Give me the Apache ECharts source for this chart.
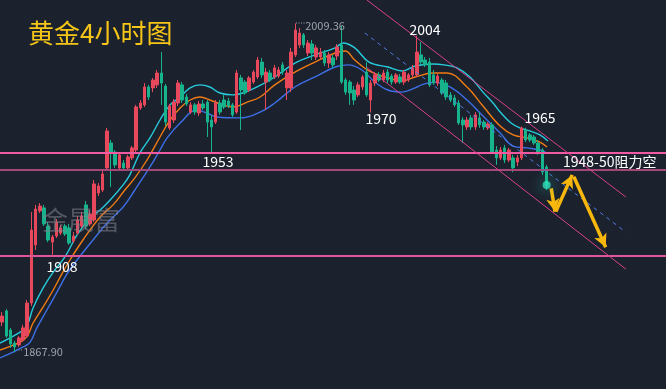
<!DOCTYPE html>
<html><head><meta charset="utf-8">
<script src="https://cdn.jsdelivr.net/npm/echarts@6/dist/echarts.min.js"></script>
<style>html,body{margin:0;padding:0;background:#1b212d;}#c{width:666px;height:389px;}</style>
</head><body><div id="c"></div>
<script>
// ---- data (prices) ----
const opens = [1880.9,1885.7,1877.5,1871.9,1871.1,1873.2,1874.9,1889.1,1914.1,1928.7,1930.0,1922.2,1915.3,1917.9,1919.2,1922.2,1921.4,1915.8,1919.2,1922.2,1931.3,1923.1,1924.8,1936.4,1937.7,1947.2,1957.9,1954.0,1947.2,1949.3,1947.2,1951.5,1954.9,1973.0,1974.3,1982.0,1981.6,1982.9,1988.0,1982.4,1964.4,1967.8,1975.1,1982.9,1977.7,1971.2,1974.3,1970.8,1974.7,1975.5,1967.8,1966.9,1975.1,1976.4,1976.0,1974.3,1971.2,1985.9,1984.1,1980.7,1984.1,1986.3,1992.7,1984.1,1988.0,1986.3,1986.7,1991.5,1981.6,1981.6,1995.8,2000.1,2004.4,1996.6,2000.5,1994.9,1994.9,1996.6,1992.3,1994.5,1995.3,2000.1,1985.0,1984.1,1980.7,1978.6,1982.0,1988.4,1976.4,1983.7,1987.2,1985.0,1988.4,1986.7,1984.1,1986.3,1984.1,1985.0,1987.2,1987.2,1995.8,1993.6,1992.7,1987.2,1983.7,1985.0,1983.7,1978.6,1977.3,1975.1,1967.8,1964.8,1968.7,1964.8,1968.7,1966.9,1964.4,1965.7,1954.9,1951.5,1955.8,1950.6,1951.5,1949.7,1951.5,1963.5,1961.4,1960.5,1957.9,1954.9,1947.6];
const closes = [1883.5,1874.9,1871.5,1870.2,1874.1,1878.4,1889.1,1920.5,1929.5,1930.8,1923.1,1916.2,1917.5,1923.9,1921.4,1918.8,1914.9,1917.9,1924.8,1926.5,1922.2,1927.4,1940.3,1939.4,1944.6,1963.1,1953.6,1948.5,1952.8,1947.2,1951.9,1955.8,1973.4,1975.1,1982.0,1977.7,1985.0,1988.0,1983.7,1966.9,1973.8,1975.5,1983.7,1976.4,1974.7,1974.3,1971.2,1974.7,1973.0,1966.9,1964.8,1975.1,1971.2,1973.4,1973.8,1970.0,1988.0,1980.7,1979.4,1985.9,1988.4,1993.6,1987.2,1988.4,1985.0,1990.2,1989.3,1988.4,1988.0,1997.0,2006.5,2005.2,2000.1,2000.9,1996.6,1998.8,1997.0,1992.3,1995.8,1991.5,1999.2,1984.1,1979.8,1979.4,1976.4,1982.9,1986.3,1978.6,1983.7,1987.2,1985.0,1988.0,1985.0,1984.1,1987.2,1984.1,1988.4,1987.2,1990.2,1997.0,1992.7,1991.5,1982.9,1983.7,1986.7,1979.4,1977.7,1976.4,1974.3,1966.5,1965.7,1967.8,1964.8,1970.0,1965.7,1964.8,1966.1,1954.0,1951.5,1954.9,1950.6,1954.9,1947.2,1951.5,1964.4,1959.2,1959.2,1957.9,1953.6,1945.4,1939.8];
const lows = [1879.2,1874.1,1869.8,1867.9,1870.2,1872.3,1874.1,1887.8,1911.9,1927.8,1922.2,1915.3,1909.8,1917.1,1918.4,1917.9,1914.1,1914.9,1918.4,1921.4,1920.9,1922.2,1923.9,1935.1,1936.8,1946.3,1939.0,1947.2,1946.3,1946.3,1946.3,1950.6,1954.0,1972.1,1973.4,1976.4,1979.8,1981.6,1974.3,1965.2,1963.5,1966.5,1973.8,1975.1,1973.8,1970.4,1970.0,1969.5,1972.1,1960.5,1953.5,1966.1,1970.0,1972.5,1973.0,1969.1,1970.4,1963.5,1978.6,1979.8,1983.3,1985.4,1985.9,1972.1,1984.1,1985.4,1985.9,1987.2,1976.4,1979.8,1994.9,1998.8,1998.8,1995.3,1993.6,1993.6,1993.6,1991.0,1990.2,1990.2,1993.6,1983.3,1978.6,1974.3,1974.3,1977.7,1980.7,1977.7,1971.0,1982.4,1984.1,1984.1,1983.7,1982.9,1983.3,1983.3,1982.9,1984.1,1985.9,1986.3,1991.5,1990.6,1982.0,1982.9,1982.4,1978.6,1976.4,1975.5,1973.4,1965.7,1957.9,1963.5,1963.5,1963.5,1964.4,1963.5,1963.5,1953.2,1948.5,1950.6,1949.3,1949.7,1945.4,1948.0,1950.6,1958.3,1958.3,1957.1,1952.8,1944.1,1937.7];
const highs = [1885.2,1886.5,1878.4,1872.8,1874.9,1879.7,1890.4,1928.2,1931.3,1932.1,1931.3,1923.9,1918.4,1925.2,1922.7,1923.1,1923.1,1919.6,1926.5,1928.2,1933.0,1929.1,1942.0,1940.7,1946.3,1964.4,1959.2,1954.9,1954.0,1950.6,1952.8,1956.6,1974.3,1976.4,1983.7,1982.9,1985.9,1989.3,1997.0,1983.3,1974.7,1976.8,1985.0,1984.1,1979.0,1975.5,1975.1,1976.0,1976.4,1976.4,1970.0,1976.4,1976.4,1978.6,1977.3,1975.1,1989.3,1987.2,1985.0,1986.7,1989.3,1994.9,1994.5,1990.2,1989.3,1991.5,1990.6,1992.7,1989.3,1998.8,2009.36,2007.4,2005.2,2002.2,2002.2,2000.1,1998.8,1997.9,1997.0,1995.8,2000.5,2008.2,1985.9,1985.0,1982.4,1984.1,1987.2,1992.7,1985.0,1988.4,1988.4,1989.3,1989.7,1987.6,1988.0,1987.6,1989.3,1988.0,1991.5,2004.0,2001.3,1994.9,1994.5,1989.3,1987.6,1985.9,1985.0,1979.8,1978.6,1976.4,1969.1,1969.1,1970.0,1971.2,1971.2,1967.8,1966.9,1966.9,1956.6,1956.2,1957.1,1955.8,1952.8,1952.8,1965.0,1964.5,1962.2,1961.4,1959.2,1955.8,1948.5];

// moving-average style lines, [candle index, price]
const maCyan = [[-0.5,1871.9],[4.3,1876.6],[5.9,1879.2],[7.4,1887.0],[9.8,1895.6],[12.2,1902.4],[15.0,1908.9],[17.9,1918.4],[21.0,1925.7],[23.4,1929.1],[25.8,1933.4],[28.9,1939.9],[30.5,1944.2],[32.9,1953.6],[35.3,1960.1],[37.7,1967.8],[40.1,1974.3],[42.5,1977.7],[44.9,1981.6],[47.2,1982.9],[49.6,1982.0],[52.0,1979.4],[55.1,1978.6],[57.5,1979.4],[60.9,1982.0],[65.1,1986.3],[69.9,1992.3],[74.7,1995.8],[79.5,1998.8],[81.4,2000.9],[84.2,1998.8],[87.6,1992.7],[92.1,1990.6],[95.5,1988.9],[98.6,1991.0],[102.9,1991.9],[105.5,1991.5],[108.6,1990.2],[111.7,1986.3],[114.8,1979.8],[117.4,1974.7],[118.9,1971.2],[121.5,1966.5],[123.6,1964.4],[126.0,1963.1],[128.4,1961.4],[130.3,1958.8]];
const maOrange = [[-0.5,1868.9],[4.3,1872.3],[5.9,1874.5],[7.4,1880.5],[9.8,1887.4],[12.2,1894.7],[14.5,1902.4],[16.2,1907.6],[19.3,1916.2],[23.4,1926.1],[26.5,1931.3],[29.3,1937.7],[31.7,1942.9],[34.6,1950.6],[37.7,1960.5],[40.1,1967.8],[42.5,1973.0],[44.9,1976.4],[47.2,1977.7],[49.6,1976.4],[52.7,1974.3],[55.1,1973.4],[58.5,1975.5],[61.6,1977.7],[65.1,1982.9],[69.9,1988.4],[74.7,1992.7],[79.5,1996.6],[81.9,1997.5],[84.2,1993.6],[87.6,1988.9],[92.1,1985.9],[95.5,1984.6],[98.6,1986.3],[102.9,1988.0],[106.2,1988.0],[111.0,1982.0],[114.8,1973.8],[118.9,1965.2],[122.0,1961.4],[125.3,1960.1],[128.4,1958.3],[130.1,1956.2]];
const maBlue = [[-0.5,1865.5],[2.6,1868.0],[5.0,1870.2],[6.7,1872.3],[8.3,1878.4],[10.7,1886.1],[13.1,1893.8],[15.5,1901.6],[17.9,1907.6],[21.7,1916.2],[25.3,1923.9],[28.9,1930.4],[31.7,1937.7],[35.3,1947.6],[37.7,1954.9],[39.4,1960.1],[42.5,1966.5],[46.5,1972.1],[48.9,1970.8],[51.3,1969.1],[56.8,1968.7],[61.6,1971.2],[65.1,1975.1],[69.9,1982.0],[74.7,1986.3],[79.5,1990.6],[82.6,1991.5],[85.9,1989.3],[89.0,1984.1],[92.1,1980.7],[95.5,1979.8],[98.6,1981.6],[100.2,1982.9],[102.9,1984.1],[106.9,1982.0],[111.0,1976.4],[114.8,1969.5],[118.9,1962.2],[122.0,1956.6],[125.3,1955.8],[128.4,1954.9],[130.1,1953.6]];

// horizontal levels and channel lines
const levels = [1953.8, 1946.3, 1909.5];
const channelUpper = [[87.1,2019.4],[148.9,1934.7]];
const channelLower = [[86.9,1990.6],[148.9,1903.7]];
const channelMid = [[86.6,2005.2],[148.9,1919.6]];
const arrows = [[[131.1,1938.4],[132.0,1928.4]],[[132.2,1928.4],[136.1,1944.2]],[[136.5,1943.4],[144.1,1913.1]]];

const N = 159;
const categories = Array.from({length:N},(_,i)=>String(i));
const candles = opens.map((o,i)=>[o,closes[i],lows[i],highs[i]]);

const FONT = '"Noto Sans CJK SC","Noto Sans",sans-serif';
const chart = echarts.init(document.getElementById('c'));
function txt(x,y,t,size,color,align){
  return {type:'text',x:x,y:y,silent:true,z:100,style:{text:t,fill:color,font:size+'px '+FONT,textAlign:align||'center',textVerticalAlign:'middle'}};
}
chart.setOption({
  animation:false,
  backgroundColor:'#1b212d',
  grid:{left:0,right:0,top:0,bottom:0},
  xAxis:[
    {type:'category',data:categories,boundaryGap:true,show:false},
    {type:'value',min:-0.5,max:N-0.5,show:false}
  ],
  yAxis:{type:'value',min:1852.13,max:2019.4,show:false,splitLine:{show:false}},
  series:[
    {type:'line',xAxisIndex:1,data:maCyan,showSymbol:false,smooth:0.4,lineStyle:{color:'#27cbdc',width:1.4},z:3},
    {type:'line',xAxisIndex:1,data:maOrange,showSymbol:false,smooth:0.4,lineStyle:{color:'#f27b14',width:1.4},z:3},
    {type:'line',xAxisIndex:1,data:maBlue,showSymbol:false,smooth:0.4,lineStyle:{color:'#3d6fe6',width:1.4},z:3},
    {type:'candlestick',xAxisIndex:0,data:candles,barWidth:3,z:4,
      itemStyle:{color:'#e8485b',color0:'#17b38c',borderColor:'#e8485b',borderColor0:'#17b38c',borderWidth:1}},
    {type:'scatter',xAxisIndex:0,data:[[opens.length-1,closes[closes.length-1]]],symbolSize:8,z:6,
      itemStyle:{color:'#2ee0bd',shadowBlur:14,shadowColor:'#2ee0bd'}},
    {type:'line',xAxisIndex:1,data:[],z:5,
      markLine:{silent:true,symbol:['none','none'],label:{show:false},animation:false,
        data:[
          {yAxis:levels[0],lineStyle:{color:'#ef5aa2',width:2,type:'solid'}},
          {yAxis:levels[1],lineStyle:{color:'#a4487a',width:2,type:'solid'}},
          {yAxis:levels[2],lineStyle:{color:'#e0569c',width:2,type:'solid'}},
          [{coord:channelUpper[0],lineStyle:{color:'#d8418e',width:1,type:'solid'}},{coord:channelUpper[1]}],
          [{coord:channelLower[0],lineStyle:{color:'#d8418e',width:1,type:'solid'}},{coord:channelLower[1]}],
          [{coord:channelMid[0],lineStyle:{color:'#4d7ee0',width:1,type:[4,4]}},{coord:channelMid[1]}]
        ]}},
    {type:'line',xAxisIndex:1,data:[],z:7,
      markLine:{silent:true,symbol:['none','arrow'],symbolSize:[10,13],label:{show:false},animation:false,
        lineStyle:{color:'#f8b70c',width:3.5,type:'solid'},
        data:arrows.map(a=>[{coord:a[0]},{coord:a[1]}])}}
  ],
  graphic:[
    txt(28,33.5,'黄金4小时图',26,'#f5c518','left'),
    txt(81,220,'金晟富',26,'rgba(128,132,140,0.55)'),
    txt(325,25.5,'2009.36',11,'#9ea3ab'),
    {type:'line',silent:true,shape:{x1:296,y1:23,x2:305,y2:23},style:{stroke:'#9ea3ab',lineWidth:1,lineDash:[1,1.5]}},
    txt(43,352,'1867.90',11,'#9ea3ab'),
    {type:'line',silent:true,shape:{x1:16,y1:350,x2:23,y2:350},style:{stroke:'#9ea3ab',lineWidth:1,lineDash:[1,1.5]}},
    txt(425,30,'2004',14,'#ffffff'),
    txt(381,119,'1970',14,'#ffffff'),
    txt(218,162,'1953',14,'#ffffff'),
    txt(540,118,'1965',14,'#ffffff'),
    txt(62,267,'1908',14,'#ffffff'),
    txt(563,161.5,'1948-50阻力空',14,'#ffffff','left')
  ]
});
</script></body></html>
